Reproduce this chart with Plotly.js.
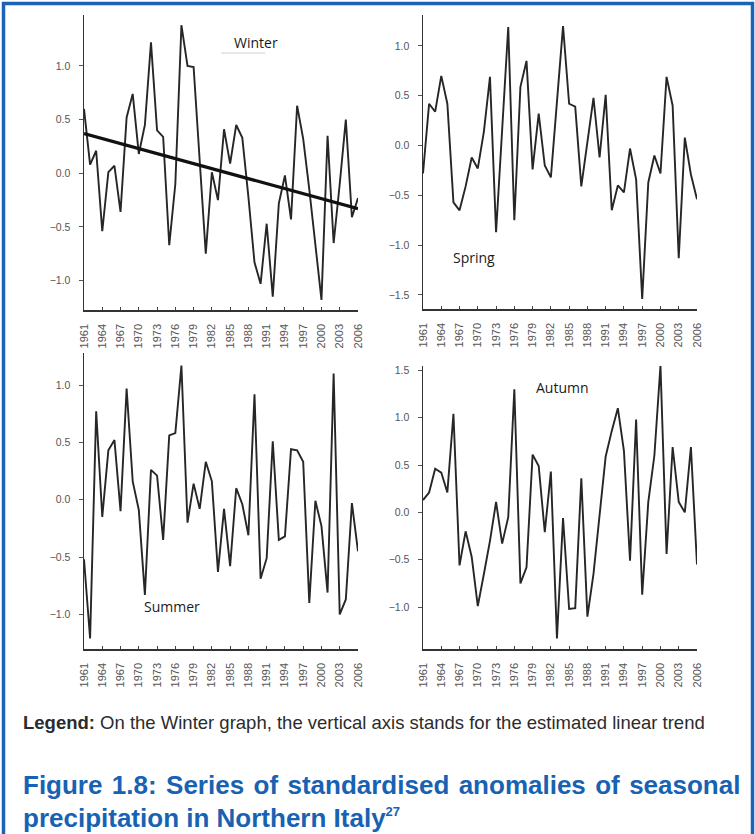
<!DOCTYPE html>
<html>
<head>
<meta charset="utf-8">
<script src="https://cdn.plot.ly/plotly-3.0.1.min.js"></script>
<style>
html, body { margin: 0; padding: 0; background: #ffffff; }
#chart { width: 755px; height: 834px; }
</style>
</head>
<body>
<div id="chart"></div>
<script>
// ---------------- DATA ----------------
const years = [1961, 1962, 1963, 1964, 1965, 1966, 1967, 1968, 1969, 1970,
  1971, 1972, 1973, 1974, 1975, 1976, 1977, 1978, 1979, 1980,
  1981, 1982, 1983, 1984, 1985, 1986, 1987, 1988, 1989, 1990,
  1991, 1992, 1993, 1994, 1995, 1996, 1997, 1998, 1999, 2000,
  2001, 2002, 2003, 2004, 2005, 2006];

const tickYears = [1961, 1964, 1967, 1970, 1973, 1976, 1979, 1982, 1985,
  1988, 1991, 1994, 1997, 2000, 2003, 2006];

const winter = [0.60, 0.08, 0.21, -0.54, 0.01, 0.07, -0.36, 0.52, 0.74, 0.18,
  0.45, 1.22, 0.40, 0.34, -0.67, -0.10, 1.38, 1.00, 0.99, 0.10,
  -0.75, 0.01, -0.25, 0.41, 0.09, 0.45, 0.33, -0.22, -0.83, -1.03,
  -0.47, -1.15, -0.28, -0.02, -0.43, 0.63, 0.32, -0.15, -0.65, -1.18,
  0.35, -0.65, -0.10, 0.50, -0.41, -0.23];

const winterTrend = [0.37, -0.33];   // estimated linear trend, 1961 -> 2006

const spring = [-0.28, 0.42, 0.34, 0.70, 0.42, -0.57, -0.65, -0.41, -0.12, -0.23,
  0.14, 0.69, -0.87, 0.12, 1.19, -0.75, 0.59, 0.85, -0.24, 0.32,
  -0.20, -0.32, 0.42, 1.20, 0.42, 0.39, -0.41, 0.05, 0.48, -0.12,
  0.51, -0.65, -0.40, -0.47, -0.03, -0.34, -1.54, -0.37, -0.10, -0.28,
  0.69, 0.40, -1.13, 0.08, -0.29, -0.54];

const summer = [-0.52, -1.21, 0.77, -0.15, 0.43, 0.52, -0.10, 0.97, 0.16, -0.09,
  -0.83, 0.26, 0.21, -0.35, 0.56, 0.58, 1.17, -0.20, 0.14, -0.08,
  0.33, 0.16, -0.63, -0.08, -0.58, 0.10, -0.04, -0.31, 0.92, -0.69,
  -0.51, 0.51, -0.35, -0.32, 0.44, 0.43, 0.33, -0.90, -0.01, -0.23,
  -0.81, 1.10, -1.00, -0.87, -0.03, -0.45];

const autumn = [0.13, 0.21, 0.46, 0.42, 0.21, 1.04, -0.56, -0.20, -0.47, -0.99,
  -0.65, -0.30, 0.11, -0.33, -0.05, 1.30, -0.75, -0.58, 0.61, 0.49,
  -0.21, 0.43, -1.33, -0.06, -1.02, -1.01, 0.36, -1.10, -0.65, -0.02,
  0.59, 0.86, 1.10, 0.65, -0.51, 0.98, -0.87, 0.11, 0.60, 1.55,
  -0.44, 0.69, 0.11, 0.00, 0.69, -0.55];

const seasonNames = ["Winter", "Spring", "Summer", "Autumn"];
const yTicksWinter = [-1.0, -0.5, 0.0, 0.5, 1.0];
const yTicksSpring = [-1.5, -1.0, -0.5, 0.0, 0.5, 1.0];
const yTicksSummer = [-1.0, -0.5, 0.0, 0.5, 1.0];
const yTicksAutumn = [-1.0, -0.5, 0.0, 0.5, 1.0, 1.5];

const legendText = "<b>Legend:</b> On the Winter graph, the vertical axis stands for the estimated linear trend";
const titleLine1 = "Figure 1.8: Series of standardised anomalies of seasonal";
const titleLine2 = "precipitation in Northern Italy<sup><span style=\"font-size:13px\">27</span></sup>";

// ---------------- LAYOUT HELPERS ----------------
const W = 755, H = 834;
const px = v => v / W;          // x pixel -> paper
const py = v => 1 - v / H;      // y pixel -> paper

const xTickFont = { family: "Liberation Sans, Arial, sans-serif", size: 11, color: "#555" };
const yTickFont = { family: "Liberation Sans, Arial, sans-serif", size: 10.5, color: "#555" };
const lineCol = "#262626";

function xAxis(x0, x1, anchor) {
  return {
    domain: [px(x0), px(x1)], anchor: anchor, range: [1961, 2006],
    showline: true, linecolor: "#333", linewidth: 1.5, mirror: false,
    ticks: "inside", ticklen: 3, tickwidth: 1, tickcolor: "#444",
    tickmode: "array", tickvals: tickYears, ticktext: tickYears.map(String),
    tickangle: -90, tickfont: xTickFont, ticklabelstandoff: 8,
    showgrid: false, zeroline: false, fixedrange: true
  };
}
function yAxis(top, bottom, range, ticks, anchor) {
  return {
    domain: [py(bottom), py(top)], anchor: anchor, range: range,
    showline: true, linecolor: "#333", linewidth: 1.5,
    ticks: "outside", ticklen: 4, tickwidth: 1, tickcolor: "#555",
    tickmode: "array", tickvals: ticks, tickformat: ".1f",
    tickfont: yTickFont, ticklabelstandoff: 6,
    showgrid: false, zeroline: false, fixedrange: true
  };
}

const seriesLine = { color: lineCol, width: 1.9 };

const traces = [
  { x: years, y: winter, xaxis: "x", yaxis: "y", type: "scatter", mode: "lines", line: seriesLine, hoverinfo: "skip" },
  { x: [years[0], years[years.length - 1]], y: winterTrend, xaxis: "x", yaxis: "y", type: "scatter", mode: "lines",
    line: { color: "#111", width: 3.2 }, hoverinfo: "skip" },
  { x: years, y: spring, xaxis: "x2", yaxis: "y2", type: "scatter", mode: "lines", line: seriesLine, hoverinfo: "skip" },
  { x: years, y: summer, xaxis: "x3", yaxis: "y3", type: "scatter", mode: "lines", line: seriesLine, hoverinfo: "skip" },
  { x: years, y: autumn, xaxis: "x4", yaxis: "y4", type: "scatter", mode: "lines", line: seriesLine, hoverinfo: "skip" }
];

const seasonFont = { family: "Open Sans, sans-serif", size: 14, color: "#1a1a1a" };
const blue = "#1762b3";
const titleFont = { family: "Liberation Sans, Arial, sans-serif", size: 26, color: blue, weight: "bold" };

// justify first title line: a hair space after each word gap
const titleLine1Justified = titleLine1.split(" ").join(" \u200A");

const layout = {
  width: W, height: H,
  margin: { l: 0, r: 0, t: 0, b: 0, pad: 0 },
  paper_bgcolor: "#ffffff", plot_bgcolor: "rgba(0,0,0,0)",
  showlegend: false,
  xaxis:  xAxis(84, 358, "y"),
  yaxis:  yAxis(15, 310, [-1.274, 1.475], yTicksWinter, "x"),
  xaxis2: xAxis(423, 697, "y2"),
  yaxis2: yAxis(15, 309, [-1.641, 1.311], yTicksSpring, "x2"),
  xaxis3: xAxis(84, 358, "y3"),
  yaxis3: yAxis(353, 649, [-1.302, 1.279], yTicksSummer, "x3"),
  xaxis4: xAxis(423, 697, "y4"),
  yaxis4: yAxis(366, 649, [-1.442, 1.545], yTicksAutumn, "x4"),
  annotations: [
    { text: seasonNames[0], xref: "paper", yref: "paper", x: px(256), y: py(42), showarrow: false, font: seasonFont, xanchor: "center", yanchor: "middle" },
    { text: seasonNames[1], xref: "paper", yref: "paper", x: px(474), y: py(257), showarrow: false, font: seasonFont, xanchor: "center", yanchor: "middle" },
    { text: seasonNames[2], xref: "paper", yref: "paper", x: px(172), y: py(606), showarrow: false, font: seasonFont, xanchor: "center", yanchor: "middle" },
    { text: seasonNames[3], xref: "paper", yref: "paper", x: px(562), y: py(387), showarrow: false, font: seasonFont, xanchor: "center", yanchor: "middle" },
    { text: legendText, xref: "paper", yref: "paper", x: px(21), y: py(722), showarrow: false, xanchor: "left", yanchor: "middle",
      font: { family: "Liberation Sans, Arial, sans-serif", size: 18.5, color: "#2b2b2b" } },
    { text: titleLine1Justified, xref: "paper", yref: "paper", x: px(21), y: py(785), showarrow: false, xanchor: "left", yanchor: "middle",
      font: titleFont },
    { text: titleLine2, xref: "paper", yref: "paper", x: px(21), y: py(818), showarrow: false, xanchor: "left", yanchor: "middle",
      font: titleFont }
  ],
  shapes: [
    { type: "rect", xref: "paper", yref: "paper", x0: px(3.5), x1: px(752.5), y0: py(850), y1: py(3.5),
      line: { color: "#1b63b8", width: 3.5 }, fillcolor: "rgba(0,0,0,0)" },
    { type: "line", xref: "paper", yref: "paper", x0: px(221), x1: px(265), y0: py(53), y1: py(53),
      line: { color: "#d0d0d0", width: 1 } }
  ]
};

Plotly.newPlot("chart", traces, layout, { staticPlot: true, displayModeBar: false });
</script>
</body>
</html>
